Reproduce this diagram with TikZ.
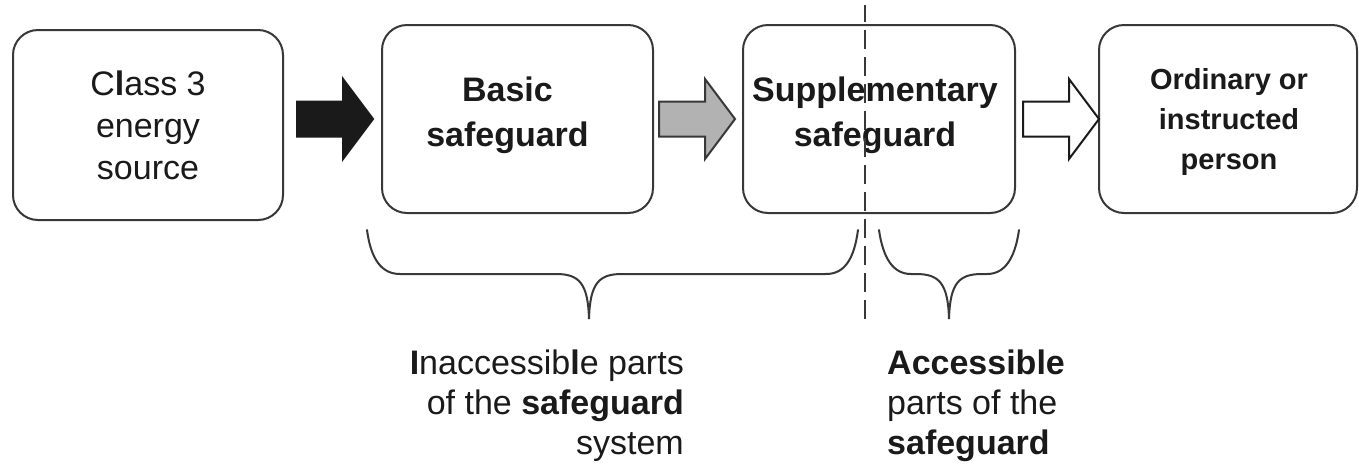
\documentclass[tikz,border=0pt]{standalone}
\usepackage{fontspec}
\setmainfont{Liberation Sans}
\usetikzlibrary{calc}
\definecolor{ink}{HTML}{1A1A1A}
\definecolor{edge}{HTML}{383838}
\definecolor{midgray}{HTML}{B2B2B2}
\tikzset{
  box/.style={draw=edge, line width=2pt, rounded corners=25pt, inner sep=0pt},
  lbl/.style={inner sep=0pt, text=ink, align=center},
  barrow/.style={line width=2pt, line join=miter},
  brace/.style={draw=edge, line width=2pt, line cap=round},
  divider/.style={draw=edge, line width=2pt, dash pattern=on 19pt off 8pt}
}
\newcommand\blockarrow[2]{%
  \draw[barrow,#1] (#2) ++(0,-17.5) -- ++(46,0) -- ++(0,-22.5) -- ++(30,40)
    -- ++(-30,40) -- ++(0,-22.5) -- ++(-46,0) -- cycle;}
\begin{document}
\begin{tikzpicture}[x=1pt,y=-1pt]
\useasboundingbox (0,0) rectangle (1359,472);
\fill[white] (0,0) rectangle (1359,472);

% boxes
\node[box, minimum width=270pt, minimum height=190pt] (b1) at (148,125) {};
\node[box, minimum width=271pt, minimum height=188pt] (b2) at (517.5,119) {};
\node[box, minimum width=272pt, minimum height=188pt] (b3) at (879,119) {};
\node[box, minimum width=258pt, minimum height=188pt] (b4) at (1228,119) {};

% box texts
\node[lbl, font=\fontsize{34}{42}\selectfont] (t1) at ($(b1.center)+(0,0.5)$)
  {C\textbf{l}ass 3\\energy\\source};
\node[lbl, font=\fontsize{34}{45}\selectfont\bfseries] (t2) at ($(b2.center)+(-10,-3.3)$)
  {Basic\\safeguard};
\node[lbl, font=\fontsize{34}{45}\selectfont\bfseries] (t3) at ($(b3.center)+(-4,-3.3)$)
  {Supplementary\\safeguard};
\node[lbl, font=\fontsize{29}{40}\selectfont\bfseries] (t4) at ($(b4.center)+(1,2.5)$)
  {Ordinary or\\instructed\\person};

% block arrows between boxes
\coordinate (a1) at ($(b1.east)+(13,-6)$);
\coordinate (a2) at ($(b2.east)+(5,0)$);
\coordinate (a3) at ($(b3.east)+(7,0)$);
\blockarrow{fill=ink, draw=ink}{a1}
\blockarrow{fill=midgray, draw=edge}{a2}
\blockarrow{fill=white, draw=ink}{a3}

% dashed divider
\coordinate (dtop) at (865,5);
\coordinate (dbot) at (865,319);
\draw[divider] (dbot) -- (dtop);

% braces
\draw[brace] (367,230) .. controls (371,260) and (382,274) .. (400,274)
  -- (556,274) .. controls (579,274) and (588,283) .. (589,319)
  .. controls (590,283) and (599,274) .. (622,274)
  -- (826,274) .. controls (844,274) and (854,260) .. (858,230);
\draw[brace] (879,230) .. controls (883,258) and (893,274) .. (911,274)
  -- (916,274) .. controls (939,274) and (948,283) .. (949,319)
  .. controls (950,283) and (959,274) .. (982,274)
  -- (987,274) .. controls (1005,274) and (1015,258) .. (1019,230);

% lower texts
\node[lbl, align=right, anchor=east, font=\fontsize{34}{40}\selectfont] (inacc) at (684,406)
  {\textbf{I}naccessib\textbf{l}e parts\\of the \textbf{safeguard}\\system};
\node[lbl, align=left, anchor=west, font=\fontsize{34}{40}\selectfont] (acc) at (887,406)
  {\textbf{Accessible}\\parts of the\\\textbf{safeguard}};
\end{tikzpicture}
\end{document}
